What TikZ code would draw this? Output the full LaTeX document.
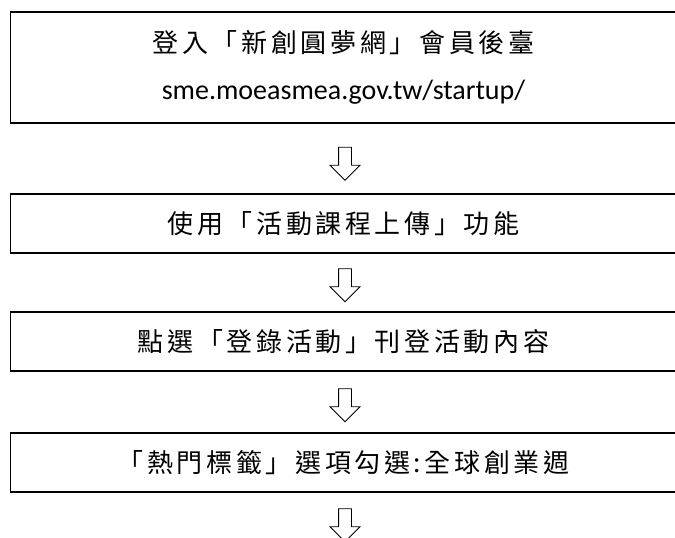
\documentclass[tikz,border=0pt]{standalone}
\usepackage{fontspec}
\usetikzlibrary{shapes.arrows}
\newfontfamily\cjk[LetterSpace=14]{Noto Sans CJK TC}
\newfontfamily\urlfont{Carlito}

\begin{document}
\begin{tikzpicture}[x=1pt,y=1pt]
	\tikzstyle{stepbox}=[draw=black, line width=1.1pt, minimum width=666pt, minimum height=59pt, inner sep=0pt, font=\cjk\fontsize{26}{30}\selectfont]
	\tikzstyle{downarrow}=[single arrow, draw=black, fill=white, line width=0.9pt, rotate=-90, minimum height=33pt, inner sep=6pt, single arrow head extend=8.5pt]
	\useasboundingbox (0,0) rectangle (675,-538);
	% steps
	\node [stepbox, minimum height=111pt, align=center] (login) at (343.5,-67.5) {登入「新創圓夢網」會員後臺\\[17pt]{\urlfont\fontsize{28}{30}\selectfont sme.moeasmea.gov.tw/startup/}};
	\node [stepbox] (upload) at (343.5,-223.5) {使用「活動課程上傳」功能};
	\node [stepbox] (post) at (343.5,-341.5) {點選「登錄活動」刊登活動內容};
	\node [stepbox] (tag) at (343.5,-462.5) {「熱門標籤」選項勾選:全球創業週};
	% arrows
	\node [downarrow] (a1) at (345,-160.5) {};
	\node [downarrow] (a2) at (345,-282) {};
	\node [downarrow] (a3) at (345,-402) {};
	\node [downarrow] (a4) at (345,-522) {};
\end{tikzpicture}
\end{document}
